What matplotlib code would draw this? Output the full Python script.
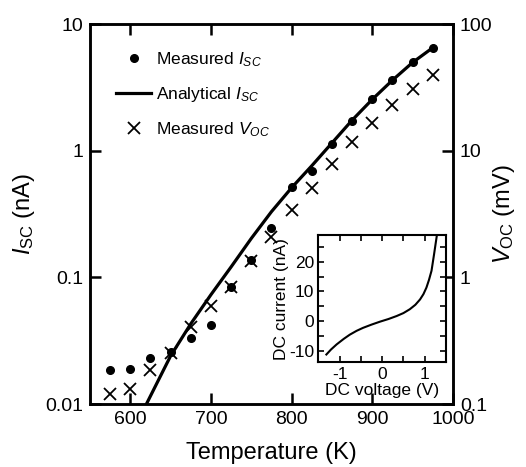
import matplotlib
matplotlib.use("Agg")
import matplotlib.pyplot as plt
from matplotlib.lines import Line2D
from matplotlib.ticker import MultipleLocator, FixedLocator, NullLocator

plt.rcParams['font.family'] = ['Liberation Sans', 'DejaVu Sans']
plt.rcParams['mathtext.fontset'] = 'custom'
plt.rcParams['mathtext.rm'] = 'Liberation Sans'
plt.rcParams['mathtext.it'] = 'Liberation Sans:italic'
plt.rcParams['axes.unicode_minus'] = False

# donnees
temp = [575, 600, 625, 650, 675, 700, 725, 750, 775, 800, 825, 850, 875, 900, 925, 950, 975]
isc_mesure = [0.0185, 0.019, 0.023, 0.0256, 0.033, 0.042, 0.084, 0.137, 0.246, 0.52,
              0.69, 1.13, 1.72, 2.54, 3.6, 4.97, 6.5]
voc_mesure = [0.119, 0.131, 0.185, 0.251, 0.407, 0.593, 0.843, 1.35, 2.09, 3.4,
              5.1, 7.84, 11.75, 16.4, 22.9, 30.5, 39.5]

temp_analytique = [620, 635, 650, 675, 700, 725, 750, 775, 800, 825, 850, 875, 900, 925, 950, 975]
isc_analytique = [0.0100, 0.0155, 0.0240, 0.043, 0.073, 0.121, 0.203, 0.33, 0.51, 0.76,
                  1.15, 1.74, 2.54, 3.6, 4.97, 6.5]

# courbe I-V de l'encart
tension_dc = [-1.31, -1.2, -1.07, -0.9, -0.76, -0.6, -0.45, -0.25, -0.05, 0.15, 0.34, 0.5,
              0.65, 0.78, 0.89, 0.97, 1.04, 1.1, 1.16, 1.22, 1.26, 1.29]
courant_dc = [-11.3, -9.6, -7.9, -6.0, -4.6, -3.3, -2.3, -1.2, -0.2, 0.7, 1.7, 2.7,
              4.0, 5.5, 7.3, 9.1, 11.3, 13.9, 17.0, 22.6, 26.5, 29.4]

fig = plt.figure(figsize=(5.26, 4.67), dpi=100)
ax = fig.add_axes([0.1711, 0.1349, 0.690, 0.8137])

ax.plot(temp, isc_mesure, 'o', color='black', markersize=5.5, zorder=3)
ax.plot(temp_analytique, isc_analytique, '-', color='black', lw=2.3)

ax.set_yscale('log')
ax.set_xlim(550, 1000)
ax.set_ylim(0.01, 10)
ax.xaxis.set_major_locator(FixedLocator([600, 700, 800, 900, 1000]))
ax.yaxis.set_major_locator(FixedLocator([0.01, 0.1, 1, 10]))
ax.yaxis.set_minor_locator(NullLocator())
ax.set_yticklabels(['0.01', '0.1', '1', '10'])
ax.tick_params(direction='in', length=8, width=1.8, labelsize=14, pad=5, top=True)
ax.tick_params(axis='y', right=False)
for s in ax.spines.values():
    s.set_linewidth(1.8)
ax.set_xlabel('Temperature (K)', fontsize=17, labelpad=10)
ax.set_ylabel(r'$I_{\mathrm{SC}}$ (nA)', fontsize=17, labelpad=6)

ax2 = ax.twinx()
ax2.plot(temp, voc_mesure, 'x', color='black', markersize=8, mew=1.3, zorder=3)
ax2.set_yscale('log')
ax2.set_ylim(0.1, 100)
ax2.yaxis.set_major_locator(FixedLocator([0.1, 1, 10, 100]))
ax2.yaxis.set_minor_locator(NullLocator())
ax2.set_yticklabels(['0.1', '1', '10', '100'])
ax2.tick_params(direction='in', length=8, width=1.8, labelsize=14, pad=5)
for s in ax2.spines.values():
    s.set_linewidth(1.8)
ax2.set_ylabel(r'$V_{\mathrm{OC}}$ (mV)', fontsize=17, labelpad=-1)

handles = [Line2D([], [], ls='none', marker='o', color='black', markersize=5.5),
           Line2D([], [], ls='-', color='black', lw=2.3),
           Line2D([], [], ls='none', marker='x', color='black', markersize=8, mew=1.3)]
labels = [r'Measured $I_{SC}$', r'Analytical $I_{SC}$', r'Measured $V_{OC}$']
ax.legend(handles, labels, loc='upper left', bbox_to_anchor=(0.073, 0.931), frameon=False,
          fontsize=12.5, handlelength=2.0, handletextpad=0.3, labelspacing=0.92,
          borderpad=0, borderaxespad=0)

# encart
axi = fig.add_axes([0.6051, 0.2238, 0.2428, 0.2724])
axi.plot(tension_dc, courant_dc, '-', color='black', lw=1.5)
axi.set_xlim(-1.5, 1.5)
axi.set_ylim(-14, 29)
axi.xaxis.set_major_locator(FixedLocator([-1, 0, 1]))
axi.xaxis.set_minor_locator(MultipleLocator(0.5))
axi.yaxis.set_major_locator(FixedLocator([-10, 0, 10, 20]))
axi.yaxis.set_minor_locator(MultipleLocator(5))
axi.tick_params(which='both', direction='in', length=4, width=1.2, top=True, right=True,
                labelsize=12.5, pad=3)
for s in axi.spines.values():
    s.set_linewidth(1.5)
axi.set_xlabel('DC voltage (V)', fontsize=12.5, labelpad=1)
axi.set_ylabel('DC current (nA)', fontsize=12.5, labelpad=0)

fig.savefig('out.png', dpi=100)
